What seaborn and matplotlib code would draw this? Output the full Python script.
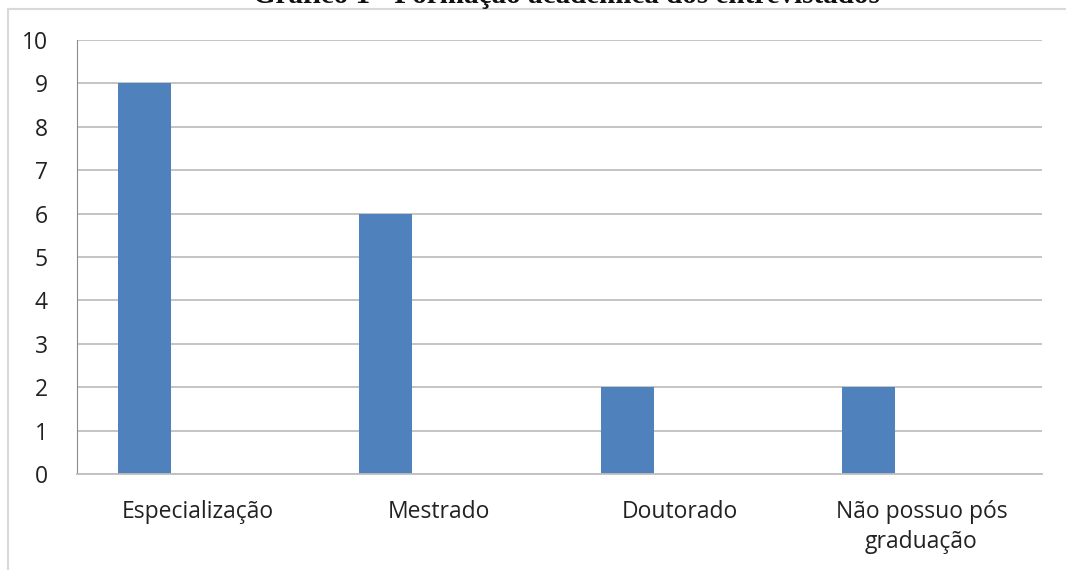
import pandas as pd
import numpy as np
import matplotlib.pyplot as plt
import matplotlib.lines as mlines
import seaborn as sns

# Dados do gráfico
categorias = ['Especialização', 'Mestrado', 'Doutorado', 'Não possuo pós\ngraduação']
valores = [9, 6, 2, 2]
series = ['Série 1', 'Série 2', 'Série 3']
titulo = 'Gráfico 1 - Formação acadêmica dos entrevistados'
yticks = list(range(0, 11))

# Excel-style clustered chart: only the first series has values
rows = []
for cat, v in zip(categorias, valores):
    rows.append({'cat': cat, 'serie': series[0], 'val': v})
    rows.append({'cat': cat, 'serie': series[1], 'val': 0})
    rows.append({'cat': cat, 'serie': series[2], 'val': 0})
df = pd.DataFrame(rows)

sns.set_style('white')
plt.rcParams['font.family'] = ['Open Sans', 'DejaVu Sans']

fig = plt.figure(figsize=(10.66, 5.70), dpi=100)
ax = fig.add_axes([77 / 1066, 1 - 474 / 570, (1042 - 77) / 1066, (474 - 40) / 570])

sns.barplot(data=df, x='cat', y='val', hue='serie', order=categorias,
            hue_order=series, palette=['#4F81BD', '#4F81BD', '#4F81BD'],
            width=0.66, linewidth=0, saturation=1, legend=False, ax=ax)

ax.set_xlim(-0.5, len(categorias) - 0.5)
ax.set_ylim(0, 10)
ax.set_yticks(yticks)
ax.set_yticklabels([str(t) for t in yticks], fontsize=16.5, color='#222222')
ax.set_xlabel('')
ax.set_ylabel('')

ax.yaxis.grid(True, color='#bfbfbf', linewidth=1.3)
ax.set_axisbelow(True)
for s in ['top', 'right']:
    ax.spines[s].set_visible(False)
ax.spines['left'].set_color('#8c8c8c')
ax.spines['bottom'].set_color('#bfbfbf')
ax.spines['bottom'].set_linewidth(1.3)

# category labels centered in slots, ticks at slot boundaries
ax.set_xticks(np.arange(len(categorias)))
ax.set_xticklabels(categorias, fontsize=16.5, color='#222222', linespacing=1.3)
ax.tick_params(axis='x', length=0, pad=19)
ax.set_xticks(np.arange(len(categorias) + 1) - 0.5, minor=True)
ax.tick_params(axis='x', which='minor', length=8, width=1, color='#8c8c8c', direction='out')
ax.tick_params(axis='y', length=8, width=1, color='#8c8c8c', pad=13)

# chart frame (top and left edges visible)
fig.add_artist(mlines.Line2D([8 / 1066, 1.0], [1 - 9 / 570, 1 - 9 / 570],
                             transform=fig.transFigure, color='#d9d9d9', linewidth=1.5))
fig.add_artist(mlines.Line2D([8 / 1066, 8 / 1066], [0, 1 - 9 / 570],
                             transform=fig.transFigure, color='#d9d9d9', linewidth=1.5))

# title, cut off at the top of the image (as in the source)
fig.text(566 / 1066, 1 - 3 / 570, titulo, ha='center', va='baseline',
         fontsize=21, fontweight='bold', family='Liberation Serif', color='#111111')

fig.savefig('out.png', dpi=100, facecolor='white')
